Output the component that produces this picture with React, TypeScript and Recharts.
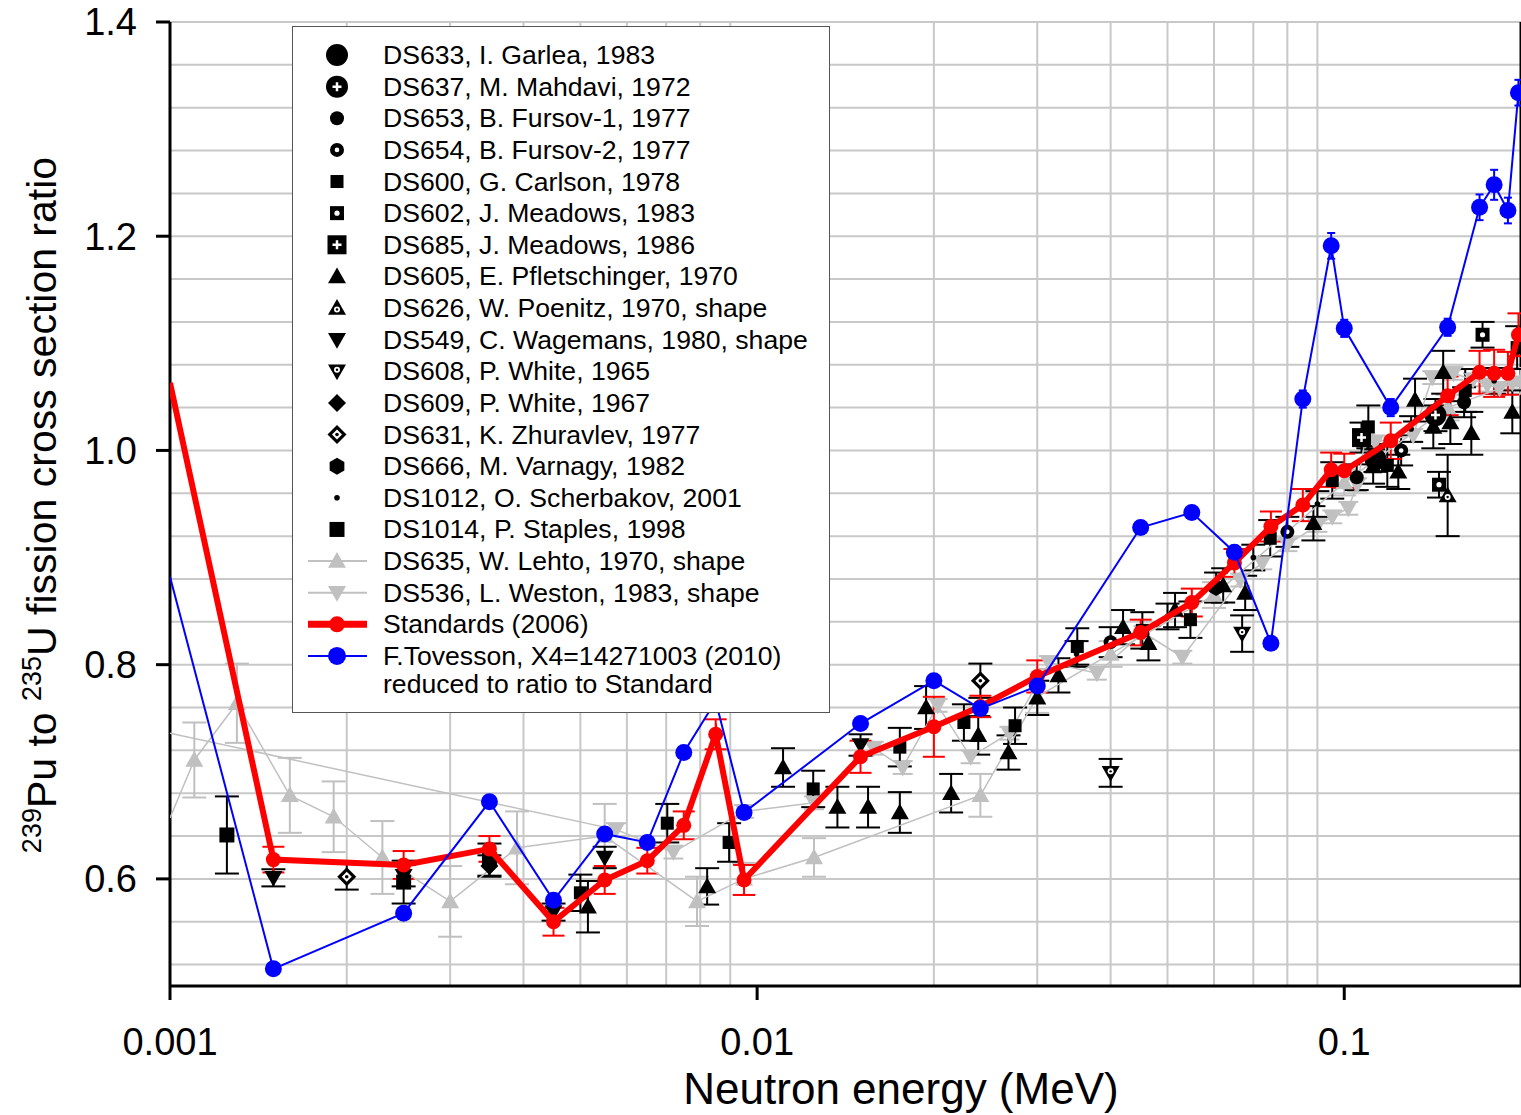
import React from 'react';
import {
    ComposedChart, Scatter, XAxis, YAxis, CartesianGrid, ErrorBar, Legend, ReferenceLine,
} from 'recharts';

// [energy (MeV), ratio, uncertainty]
type Pt = [number, number, number];
type Kind =
    | 'bigCircle' | 'circlePlus' | 'circle' | 'circleDot'
    | 'square' | 'squareDot' | 'squarePlus' | 'bigSquare'
    | 'triUp' | 'triUpDot' | 'triDown' | 'triDownDot'
    | 'diamond' | 'diamondDot' | 'hexagon' | 'dot';

const FONT = '"Liberation Sans", Arial, Helvetica, sans-serif';
const GRAY = '#c0c0c0';
const RED = '#ff0000';
const BLUE = '#0000ff';

// axes
const X_MIN = 0.001;
const xTicks = [0.001, 0.01, 0.1];
const xGrid = [0.002, 0.003, 0.004, 0.005, 0.006, 0.007, 0.008, 0.009,
    0.02, 0.03, 0.04, 0.05, 0.06, 0.07, 0.08, 0.09, 0.2];
const yTicks = [0.6, 0.8, 1.0, 1.2, 1.4];
const yGrid = [0.52, 0.56, 0.6, 0.64, 0.68, 0.72, 0.76, 0.8, 0.84, 0.88, 0.92, 0.96,
    1.0, 1.04, 1.08, 1.12, 1.16, 1.2, 1.24, 1.28, 1.32, 1.36, 1.4];

// Standards (2006)
const stdE = [0.001, 0.0015, 0.0025, 0.0035, 0.0045, 0.0055, 0.0065, 0.0075, 0.0085, 0.0095,
    0.015, 0.02, 0.024, 0.03, 0.045, 0.055, 0.065, 0.075, 0.085, 0.095,
    0.1, 0.12, 0.15, 0.17, 0.18, 0.19, 0.198];
const stdR = [1.063, 0.618, 0.613, 0.628, 0.560, 0.599, 0.617, 0.650, 0.735, 0.599,
    0.714, 0.742, 0.761, 0.789, 0.830, 0.858, 0.895, 0.929, 0.949, 0.982,
    0.981, 1.009, 1.051, 1.073, 1.072, 1.072, 1.108];
const stdU = [0, 0.012, 0.013, 0.012, 0.013, 0.013, 0.012, 0.013, 0.014, 0.014,
    0.015, 0.028, 0.010, 0.015, 0.012, 0.013, 0.013, 0.014, 0.015, 0.016,
    0.016, 0.017, 0.018, 0.020, 0.022, 0.020, 0.020];

// F.Tovesson (2010)
const tovE = stdE;
const tovR = [0.882, 0.516, 0.568, 0.672, 0.580, 0.642, 0.634, 0.718, 0.766, 0.662,
    0.745, 0.785, 0.759, 0.780, 0.928, 0.942, 0.905, 0.820, 1.048, 1.191,
    1.114, 1.040, 1.115, 1.227, 1.248, 1.224, 1.334];
const tovU = [0, 0.004, 0.004, 0.004, 0.004, 0.004, 0.004, 0.004, 0.005, 0.004,
    0.005, 0.005, 0.005, 0.005, 0.006, 0.006, 0.006, 0.006, 0.008, 0.012,
    0.008, 0.008, 0.008, 0.012, 0.014, 0.012, 0.012];

// DS635 Lehto (gray, up)
const lehto: Pt[] = [
    [0.001, 0.657, 0], [0.0011, 0.711, 0.035], [0.0013, 0.764, 0.037], [0.0016, 0.678, 0.035],
    [0.0019, 0.658, 0.033], [0.0023, 0.620, 0.034], [0.003, 0.579, 0.033], [0.0039, 0.629, 0.034],
    [0.0055, 0.640, 0.030], [0.0079, 0.579, 0.023], [0.0095, 0.600, 0.015], [0.0125, 0.620, 0.018],
    [0.024, 0.678, 0.020], [0.03, 0.770, 0.015], [0.04, 0.810, 0.012], [0.06, 0.865, 0.012],
    [0.1, 0.970, 0.012], [0.15, 1.040, 0.012], [0.2, 1.065, 0.012],
];

// DS536 Weston (gray, down)
const weston: Pt[] = [
    [0.001, 0.736, 0], [0.00575, 0.646, 0.006], [0.0072, 0.625, 0.006], [0.0095, 0.663, 0.006],
    [0.0125, 0.671, 0.006], [0.0158, 0.722, 0.006], [0.0177, 0.704, 0.006], [0.0203, 0.762, 0.006],
    [0.0231, 0.714, 0.006], [0.0269, 0.736, 0.006], [0.0314, 0.802, 0.006], [0.0379, 0.792, 0.006],
    [0.0455, 0.830, 0.006], [0.053, 0.807, 0.006], [0.0665, 0.879, 0.006], [0.0725, 0.895, 0.006],
    [0.08, 0.912, 0.006], [0.09, 0.930, 0.006], [0.0954, 0.938, 0.006], [0.1016, 0.946, 0.006],
    [0.1052, 0.968, 0.006], [0.1086, 1.010, 0.006], [0.1129, 1.008, 0.006], [0.131, 1.014, 0.006],
    [0.1412, 1.068, 0.006], [0.1534, 1.072, 0.006], [0.1657, 1.066, 0.006], [0.1752, 1.061, 0.006],
    [0.1839, 1.058, 0.006], [0.1933, 1.063, 0.006],
];

// black data sets
const ds633: Pt[] = [[0.113, 0.992, 0.012]];
const ds637: Pt[] = [[0.143, 1.033, 0.015]];
const ds653: Pt[] = [[0.105, 0.975, 0.012], [0.16, 1.045, 0.014]];
const ds654: Pt[] = [[0.04, 0.821, 0.014], [0.08, 0.924, 0.014], [0.125, 1.0, 0.014]];
const ds600: Pt[] = [
    [0.005, 0.587, 0.017], [0.00703, 0.652, 0.018], [0.00896, 0.634, 0.018], [0.01246, 0.684, 0.017],
    [0.0175, 0.723, 0.018], [0.0225, 0.746, 0.017], [0.0275, 0.743, 0.017], [0.0351, 0.817, 0.017],
    [0.0453, 0.832, 0.017], [0.0547, 0.842, 0.017], [0.0748, 0.918, 0.017], [0.0954, 0.972, 0.017],
    [0.1099, 1.022, 0.020], [0.1184, 0.986, 0.020], [0.1607, 1.056, 0.020], [0.197, 1.096, 0.020],
];
const ds602: Pt[] = [[0.145, 0.968, 0.012], [0.172, 1.108, 0.012]];
const ds685: Pt[] = [[0.107, 1.012, 0.014]];
const ds605: Pt[] = [
    [0.00515, 0.574, 0.024], [0.00822, 0.593, 0.017], [0.01107, 0.704, 0.018], [0.0137, 0.667, 0.019],
    [0.01545, 0.667, 0.019], [0.0175, 0.662, 0.019], [0.0194, 0.760, 0.020], [0.0214, 0.680, 0.018],
    [0.0238, 0.734, 0.018], [0.0268, 0.718, 0.016], [0.030, 0.769, 0.016], [0.0326, 0.790, 0.016],
    [0.042, 0.835, 0.016], [0.0464, 0.820, 0.016], [0.0515, 0.851, 0.016], [0.0622, 0.874, 0.016],
    [0.0678, 0.867, 0.016], [0.0886, 0.932, 0.016], [0.112, 0.985, 0.016], [0.1236, 0.980, 0.016],
    [0.132, 1.047, 0.020], [0.1418, 1.022, 0.020], [0.1474, 1.073, 0.020], [0.1516, 1.026, 0.020],
    [0.1646, 1.016, 0.020], [0.1933, 1.036, 0.020],
];
const ds626: Pt[] = [[0.15, 0.958, 0.038]];
const ds549: Pt[] = [
    [0.0015, 0.601, 0.008], [0.0025, 0.603, 0.010], [0.0045, 0.569, 0.008],
    [0.0055, 0.620, 0.010], [0.015, 0.725, 0.010],
];
const ds608: Pt[] = [[0.04, 0.699, 0.013], [0.067, 0.829, 0.017]];
const ds609: Pt[] = [[0.0035, 0.612, 0.010]];
const ds631: Pt[] = [[0.002, 0.602, 0.012], [0.024, 0.785, 0.016]];
const ds666: Pt[] = [[0.0605, 0.872, 0.014]];
const ds1012: Pt[] = [
    [0.035, 0.810, 0.012], [0.05, 0.845, 0.012], [0.07, 0.900, 0.012],
    [0.09, 0.950, 0.012], [0.13, 1.020, 0.012], [0.18, 1.065, 0.012],
];
const ds1014: Pt[] = [[0.00125, 0.641, 0.036], [0.0025, 0.597, 0.020], [0.0035, 0.618, 0.015]];

const blackSeries: { name: string; kind: Kind; data: Pt[] }[] = [
    { name: 'DS633, I. Garlea, 1983', kind: 'bigCircle', data: ds633 },
    { name: 'DS637, M. Mahdavi, 1972', kind: 'circlePlus', data: ds637 },
    { name: 'DS653, B. Fursov-1, 1977', kind: 'circle', data: ds653 },
    { name: 'DS654, B. Fursov-2, 1977', kind: 'circleDot', data: ds654 },
    { name: 'DS600, G. Carlson, 1978', kind: 'square', data: ds600 },
    { name: 'DS602, J. Meadows, 1983', kind: 'squareDot', data: ds602 },
    { name: 'DS685, J. Meadows, 1986', kind: 'squarePlus', data: ds685 },
    { name: 'DS605, E. Pfletschinger, 1970', kind: 'triUp', data: ds605 },
    { name: 'DS626, W. Poenitz, 1970, shape', kind: 'triUpDot', data: ds626 },
    { name: 'DS549, C. Wagemans, 1980, shape', kind: 'triDown', data: ds549 },
    { name: 'DS608, P. White, 1965', kind: 'triDownDot', data: ds608 },
    { name: 'DS609, P. White, 1967', kind: 'diamond', data: ds609 },
    { name: 'DS631, K. Zhuravlev, 1977', kind: 'diamondDot', data: ds631 },
    { name: 'DS666, M. Varnagy, 1982', kind: 'hexagon', data: ds666 },
    { name: 'DS1012, O. Scherbakov, 2001', kind: 'dot', data: ds1012 },
    { name: 'DS1014, P. Staples, 1998', kind: 'bigSquare', data: ds1014 },
];

const toRows = (pts: Pt[]) => pts.map(([x, y, e]) => ({ x, y, e }));
const zipRows = (xs: number[], ys: number[], es: number[]) => xs.map((x, i) => ({ x, y: ys[i], e: es[i] }));

function Marker({ kind, cx, cy, color = '#000' }: { kind: Kind; cx: number; cy: number; color?: string }) {
    const w = '#fff';
    const plus = (r: number) => `M${cx - r},${cy}H${cx + r}M${cx},${cy - r}V${cy + r}`;
    const up = (h: number) => `${cx},${cy - h} ${cx - h},${cy + h * 0.75} ${cx + h},${cy + h * 0.75}`;
    const down = (h: number) => `${cx},${cy + h} ${cx - h},${cy - h * 0.75} ${cx + h},${cy - h * 0.75}`;
    const dia = (h: number) => `${cx},${cy - h} ${cx + h},${cy} ${cx},${cy + h} ${cx - h},${cy}`;
    const sq = (s: number) => ({ x: cx - s / 2, y: cy - s / 2, width: s, height: s });
    switch (kind) {
        case 'bigCircle':
            return <circle cx={cx} cy={cy} r={11} fill={color} />;
        case 'circlePlus':
            return (<g><circle cx={cx} cy={cy} r={11} fill={color} /><path d={plus(4.5)} stroke={w} strokeWidth={2.5} /></g>);
        case 'circle':
            return <circle cx={cx} cy={cy} r={7} fill={color} />;
        case 'circleDot':
            return (<g><circle cx={cx} cy={cy} r={7} fill={color} /><circle cx={cx} cy={cy} r={2.3} fill={w} /></g>);
        case 'square':
            return <rect {...sq(13)} fill={color} />;
        case 'squareDot':
            return (<g><rect {...sq(14)} fill={color} /><circle cx={cx} cy={cy} r={2.6} fill={w} /></g>);
        case 'squarePlus':
            return (<g><rect {...sq(19)} fill={color} /><path d={plus(4.5)} stroke={w} strokeWidth={2.5} /></g>);
        case 'bigSquare':
            return <rect {...sq(15)} fill={color} />;
        case 'triUp':
            return <polygon points={up(9)} fill={color} />;
        case 'triUpDot':
            return (<g><polygon points={up(9)} fill={color} /><circle cx={cx} cy={cy + 1.5} r={3} fill={w} /><circle cx={cx} cy={cy + 1.5} r={1.2} fill={color} /></g>);
        case 'triDown':
            return <polygon points={down(9)} fill={color} />;
        case 'triDownDot':
            return (<g><polygon points={down(9)} fill={color} /><circle cx={cx} cy={cy - 1.5} r={3} fill={w} /><circle cx={cx} cy={cy - 1.5} r={1.2} fill={color} /></g>);
        case 'diamond':
            return <polygon points={dia(9)} fill={color} />;
        case 'diamondDot':
            return (<g><polygon points={dia(9.5)} fill={color} /><polygon points={dia(5)} fill={w} /><circle cx={cx} cy={cy} r={1.8} fill={color} /></g>);
        case 'hexagon': {
            const pts = [0, 1, 2, 3, 4, 5].map((k) => {
                const a = (Math.PI / 3) * k + Math.PI / 6;
                return `${cx + 8.5 * Math.cos(a)},${cy + 8.5 * Math.sin(a)}`;
            }).join(' ');
            return <polygon points={pts} fill={color} />;
        }
        case 'dot':
        default:
            return <circle cx={cx} cy={cy} r={2.8} fill={color} />;
    }
}

// lines that enter from the left edge have no visible marker there
const atEdge = (p: any) => p.payload && p.payload.x <= X_MIN;

const LegendBox = () => {
    const rowY = (i: number) => 28 + i * 31.63;
    const lineRows = [
        { name: 'DS635, W. Lehto, 1970, shape', kind: 'triUp' as Kind },
        { name: 'DS536, L. Weston, 1983, shape', kind: 'triDown' as Kind },
    ];
    const n = blackSeries.length;
    return (
        <div style={{ width: 538, height: 687, background: '#fff', border: '1px solid #555', boxSizing: 'border-box' }}>
            <svg width={536} height={685} style={{ display: 'block' }}>
                <g fontFamily={FONT} fontSize={26.6} fill="#000">
                    {blackSeries.map((s, i) => (
                        <g key={s.name}>
                            <Marker kind={s.kind} cx={44} cy={rowY(i)} />
                            <text x={90} y={rowY(i) + 9}>{s.name}</text>
                        </g>
                    ))}
                    {lineRows.map((r, j) => (
                        <g key={r.name}>
                            <line x1={15} x2={74} y1={rowY(n + j)} y2={rowY(n + j)} stroke={GRAY} strokeWidth={2} />
                            <Marker kind={r.kind} cx={44} cy={rowY(n + j)} color={GRAY} />
                            <text x={90} y={rowY(n + j) + 9}>{r.name}</text>
                        </g>
                    ))}
                    <line x1={15} x2={74} y1={rowY(n + 2)} y2={rowY(n + 2)} stroke={RED} strokeWidth={7} />
                    <circle cx={44} cy={rowY(n + 2)} r={8} fill={RED} />
                    <text x={90} y={rowY(n + 2) + 9}>Standards (2006)</text>
                    <line x1={15} x2={74} y1={rowY(n + 3)} y2={rowY(n + 3)} stroke={BLUE} strokeWidth={2} />
                    <circle cx={44} cy={rowY(n + 3)} r={9} fill={BLUE} />
                    <text x={90} y={rowY(n + 3) + 9}>F.Tovesson, X4=14271003 (2010)</text>
                    <text x={90} y={rowY(n + 3) + 37}>reduced to ratio to Standard</text>
                </g>
            </svg>
        </div>
    );
};

const YTitle = () => (
    <text transform="translate(56,505) rotate(-90)" textAnchor="middle" fontSize={41} fontFamily={FONT} fill="#000">
        <tspan fontSize={27} dy={-15}>239</tspan>
        <tspan dy={15}>Pu to </tspan>
        <tspan fontSize={27} dy={-15}>235</tspan>
        <tspan dy={15}>U fission cross section ratio</tspan>
    </text>
);

const XTitle = () => (
    <text x={901} y={1104} textAnchor="middle" fontSize={44} fontFamily={FONT} fill="#000">
        Neutron energy (MeV)
    </text>
);

const App: React.FC = () => {
    const tick = { fill: '#000', fontSize: 38, fontFamily: FONT };
    return (
        <div style={{ position: 'absolute', left: 0, top: 0, width: 1521, height: 1115, background: '#fff' }}>
            <ComposedChart width={1521} height={1115} margin={{ top: 22, right: 0, bottom: 69, left: 70 }}>
                <CartesianGrid
                    stroke="#c8c8c8"
                    strokeWidth={2}
                    verticalValues={xGrid}
                    horizontalValues={yGrid}
                />
                <XAxis
                    dataKey="x" type="number" scale="log" domain={[X_MIN, 0.2]} allowDataOverflow
                    ticks={xTicks} interval={0} tickFormatter={(v) => String(v)}
                    tick={tick} tickSize={14} tickMargin={28} height={60}
                    axisLine={{ stroke: '#000', strokeWidth: 3 }} tickLine={{ stroke: '#000', strokeWidth: 3 }}
                    label={{ content: () => <XTitle /> }}
                />
                <YAxis
                    dataKey="y" type="number" domain={[0.5, 1.4]} allowDataOverflow
                    ticks={yTicks} interval={0} tickFormatter={(v) => v.toFixed(1)}
                    tick={tick} tickSize={14} tickMargin={19} width={100}
                    axisLine={{ stroke: '#000', strokeWidth: 3 }} tickLine={{ stroke: '#000', strokeWidth: 3 }}
                    label={{ content: () => <YTitle /> }}
                />
                <ReferenceLine x={0.2} stroke="#000" strokeWidth={3} />

                <Scatter name="DS635, W. Lehto, 1970, shape" data={toRows(lehto)} isAnimationActive={false}
                    line={{ stroke: GRAY, strokeWidth: 1.5 }}
                    shape={(p: any) => atEdge(p) ? <g /> : <Marker kind="triUp" cx={p.cx} cy={p.cy} color={GRAY} />}>
                    <ErrorBar dataKey="e" direction="y" width={12} stroke={GRAY} strokeWidth={2} />
                </Scatter>
                <Scatter name="DS536, L. Weston, 1983, shape" data={toRows(weston)} isAnimationActive={false}
                    line={{ stroke: GRAY, strokeWidth: 1.5 }}
                    shape={(p: any) => atEdge(p) ? <g /> : <Marker kind="triDown" cx={p.cx} cy={p.cy} color={GRAY} />}>
                    <ErrorBar dataKey="e" direction="y" width={10} stroke={GRAY} strokeWidth={2} />
                </Scatter>

                {blackSeries.map((s) => (
                    <Scatter key={s.name} name={s.name} data={toRows(s.data)} isAnimationActive={false}
                        shape={(p: any) => <Marker kind={s.kind} cx={p.cx} cy={p.cy} />}>
                        <ErrorBar dataKey="e" direction="y" width={12} stroke="#000" strokeWidth={2} />
                    </Scatter>
                ))}

                <Scatter name="Standards (2006)" data={zipRows(stdE, stdR, stdU)} isAnimationActive={false}
                    line={{ stroke: RED, strokeWidth: 6 }}
                    shape={(p: any) => atEdge(p) ? <g /> : <circle cx={p.cx} cy={p.cy} r={7.5} fill={RED} />}>
                    <ErrorBar dataKey="e" direction="y" width={11} stroke={RED} strokeWidth={2} />
                </Scatter>
                <Scatter name="F.Tovesson" data={zipRows(tovE, tovR, tovU)} isAnimationActive={false}
                    line={{ stroke: BLUE, strokeWidth: 2 }}
                    shape={(p: any) => atEdge(p) ? <g /> : <circle cx={p.cx} cy={p.cy} r={8.5} fill={BLUE} />}>
                    <ErrorBar dataKey="e" direction="y" width={4} stroke={BLUE} strokeWidth={2} />
                </Scatter>

                <Legend
                    layout="vertical" align="center" verticalAlign="middle"
                    wrapperStyle={{ left: 292, top: 26, width: 538, height: 687 }}
                    content={() => <LegendBox />}
                />
            </ComposedChart>
        </div>
    );
};

export default App;
